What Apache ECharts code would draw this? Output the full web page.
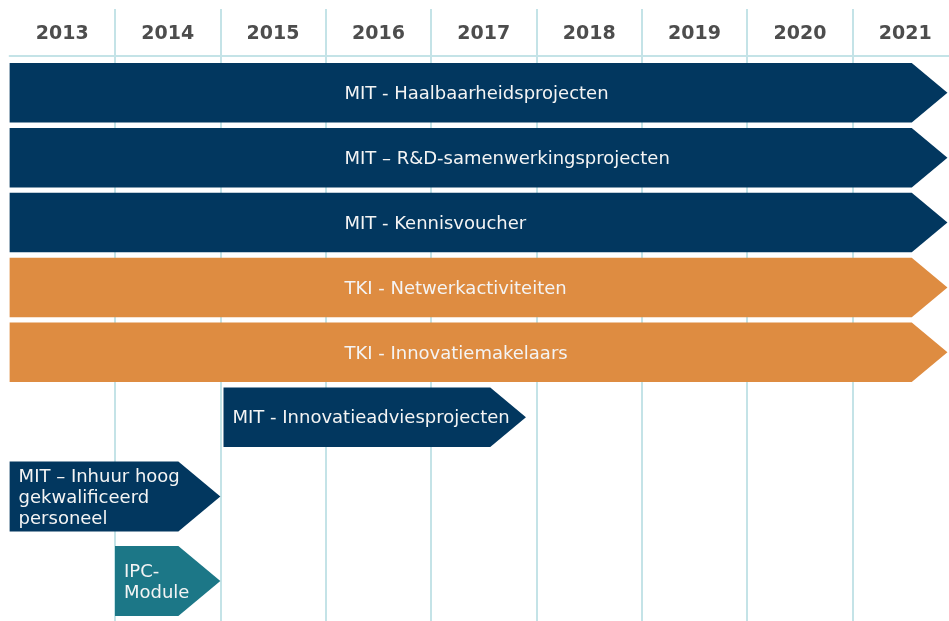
<!DOCTYPE html>
<html>
<head>
<meta charset="utf-8">
<script src="https://cdn.jsdelivr.net/npm/echarts@6/dist/echarts.min.js"></script>
<style>
  html, body { margin: 0; padding: 0; background: #ffffff; overflow: hidden; }
  /* de laatste kolom loopt buiten het beeld door */
  #chart { width: 958px; height: 621px; }
</style>
</head>
<body>
<div id="chart"></div>
<script>
  // jaren (kolommen)
  const years = ['2013', '2014', '2015', '2016', '2017', '2018', '2019', '2020', '2021'];
  // regelingen
  const programmes = [
    'MIT - Haalbaarheidsprojecten',
    'MIT \u2013 R&D-samenwerkingsprojecten',
    'MIT - Kennisvoucher',
    'TKI - Netwerkactiviteiten',
    'TKI - Innovatiemakelaars',
    'MIT - Innovatieadviesprojecten',
    'MIT \u2013 Inhuur hoog\ngekwalificeerd\npersoneel',
    'IPC-\nModule'
  ];
  const startYear = [2013, 2013, 2013, 2013, 2013, 2015.03, 2013, 2014];
  const endYear = [2021.9, 2021.9, 2021.9, 2021.9, 2021.9, 2017.9, 2015, 2015];
  const groups = ['MIT', 'MIT', 'MIT', 'TKI', 'TKI', 'MIT', 'MIT', 'IPC'];

  const groupColor = { MIT: '#02375F', TKI: '#DE8C41', IPC: '#1C7787' };
  const lineColor = '#C4E3E7';

  // rijhoogtes: hoger bij meerregelige tekst
  const rowTops = [];
  let y = 54;
  programmes.forEach(function (p, i) {
    const multi = p.indexOf('\n') >= 0;
    if (i > 0) y += multi ? 14.5 : 5.4;
    rowTops.push({ top: y, h: multi ? 70 : 59.5 });
    y += multi ? 70 : 59.5;
  });

  const chart = echarts.init(document.getElementById('chart'));

  chart.setOption({
    animation: false,
    grid: { left: 9.6, right: 0, top: 9, bottom: 0 },
    xAxis: [
      {
        type: 'value',
        min: 2013,
        max: 2022,
        interval: 1,
        axisLine: { show: false },
        axisTick: { show: false },
        axisLabel: { show: false },
        splitLine: {
          show: true,
          showMinLine: false,
          showMaxLine: false,
          lineStyle: { color: lineColor, width: 2 }
        }
      },
      {
        type: 'category',
        data: years,
        position: 'top',
        offset: -47,
        boundaryGap: true,
        axisLine: { show: true, lineStyle: { color: lineColor, width: 2 } },
        axisTick: { show: false },
        axisLabel: {
          margin: 12,
          color: '#4D4D4D',
          fontSize: 19,
          fontWeight: 'bold',
          fontFamily: 'DejaVu Sans'
        },
        splitLine: { show: false }
      }
    ],
    yAxis: { type: 'value', min: 0, max: 1, show: false },
    series: [
      {
        type: 'custom',
        xAxisIndex: 0,
        clip: false,
        data: programmes.map(function (p, i) { return [startYear[i], endYear[i], i]; }),
        encode: { x: [0, 1] },
        renderItem: function (params, api) {
          const i = api.value(2);
          const cs = params.coordSys;
          const x0 = api.coord([api.value(0), 0])[0];
          const tip = api.coord([api.value(1), 0])[0];
          const row = rowTops[i];
          const top = cs.y + row.top;
          const h = row.h;
          const depth = h * 0.6;
          const body = tip - depth;
          const long = api.value(1) - api.value(0) > 4;
          const tx = long ? x0 + (tip - x0) * 0.357 : x0 + 9;
          return {
            type: 'group',
            children: [
              {
                type: 'polygon',
                shape: {
                  points: [[x0, top], [body, top], [tip, top + h / 2], [body, top + h], [x0, top + h]]
                },
                style: { fill: groupColor[groups[i]] }
              },
              {
                type: 'text',
                style: {
                  x: tx,
                  y: top + h / 2 + 1.5,
                  text: programmes[i],
                  fill: '#F4F4F4',
                  fontSize: 18,
                  fontFamily: 'DejaVu Sans',
                  lineHeight: 21,
                  align: 'left',
                  verticalAlign: 'middle'
                }
              }
            ]
          };
        }
      }
    ]
  });
</script>
</body>
</html>
